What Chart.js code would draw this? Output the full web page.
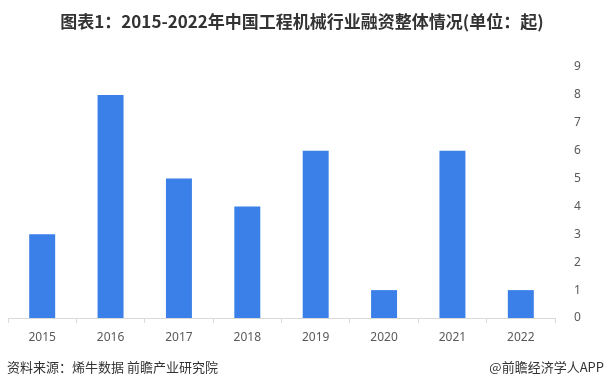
<!DOCTYPE html>
<html><head><meta charset="utf-8">
<script src="https://cdn.jsdelivr.net/npm/chart.js@4/dist/chart.umd.min.js"></script>
<style>
html,body{margin:0;padding:0;background:#fff;}
#wrap{position:relative;width:610px;height:390px;overflow:hidden;font-family:"Noto Sans CJK SC","Noto Sans",sans-serif;}
#c{position:absolute;left:0;top:0;}
#title{position:absolute;left:0;top:8px;width:604px;text-align:center;font-size:17px;font-weight:bold;color:#333;}
#src{position:absolute;left:7px;top:357px;font-size:13px;color:#333;}
#app{position:absolute;right:6px;top:357px;font-size:13px;color:#333;}
</style></head>
<body><div id="wrap">
<canvas id="c" width="610" height="390"></canvas>
<div id="title">图表1：2015-2022年中国工程机械行业融资整体情况(单位：起)</div>
<div id="src">资料来源：烯牛数据 前瞻产业研究院</div>
<div id="app">@前瞻经济学人APP</div>
</div>
<script>
const categories = ['2015','2016','2017','2018','2019','2020','2021','2022'];
const financingCounts = [3,8,5,4,6,1,6,1];
const yMin = 0, yMax = 9, yStep = 1;

new Chart(document.getElementById('c'), {
  type: 'bar',
  data: {
    labels: categories,
    datasets: [{
      data: financingCounts,
      backgroundColor: '#3a80e8',
      barPercentage: 0.38,
      categoryPercentage: 1.0
    }]
  },
  options: {
    responsive: false,
    animation: false,
    layout: { padding: { top: 67, left: 8, right: 0, bottom: 32 } },
    plugins: { legend: { display: false }, tooltip: { enabled: false }, title: { display: false } },
    scales: {
      x: {
        offset: true,
        grid: { display: true, drawOnChartArea: false, tickLength: 5, color: '#d9d9d9', offset: true },
        border: { display: true, color: '#d9d9d9' },
        ticks: { color: '#595959', font: { size: 12, family: 'Noto Sans, sans-serif' }, padding: 7 },
        afterFit: s => { s.height = 40; }
      },
      y: {
        position: 'right',
        min: yMin, max: yMax,
        grid: { display: false },
        border: { display: false },
        ticks: { stepSize: yStep, color: '#595959', font: { size: 12, family: 'Noto Sans, sans-serif' }, padding: 11 },
        afterFit: s => { s.width = 55; }
      }
    }
  }
});
</script>
</body></html>
